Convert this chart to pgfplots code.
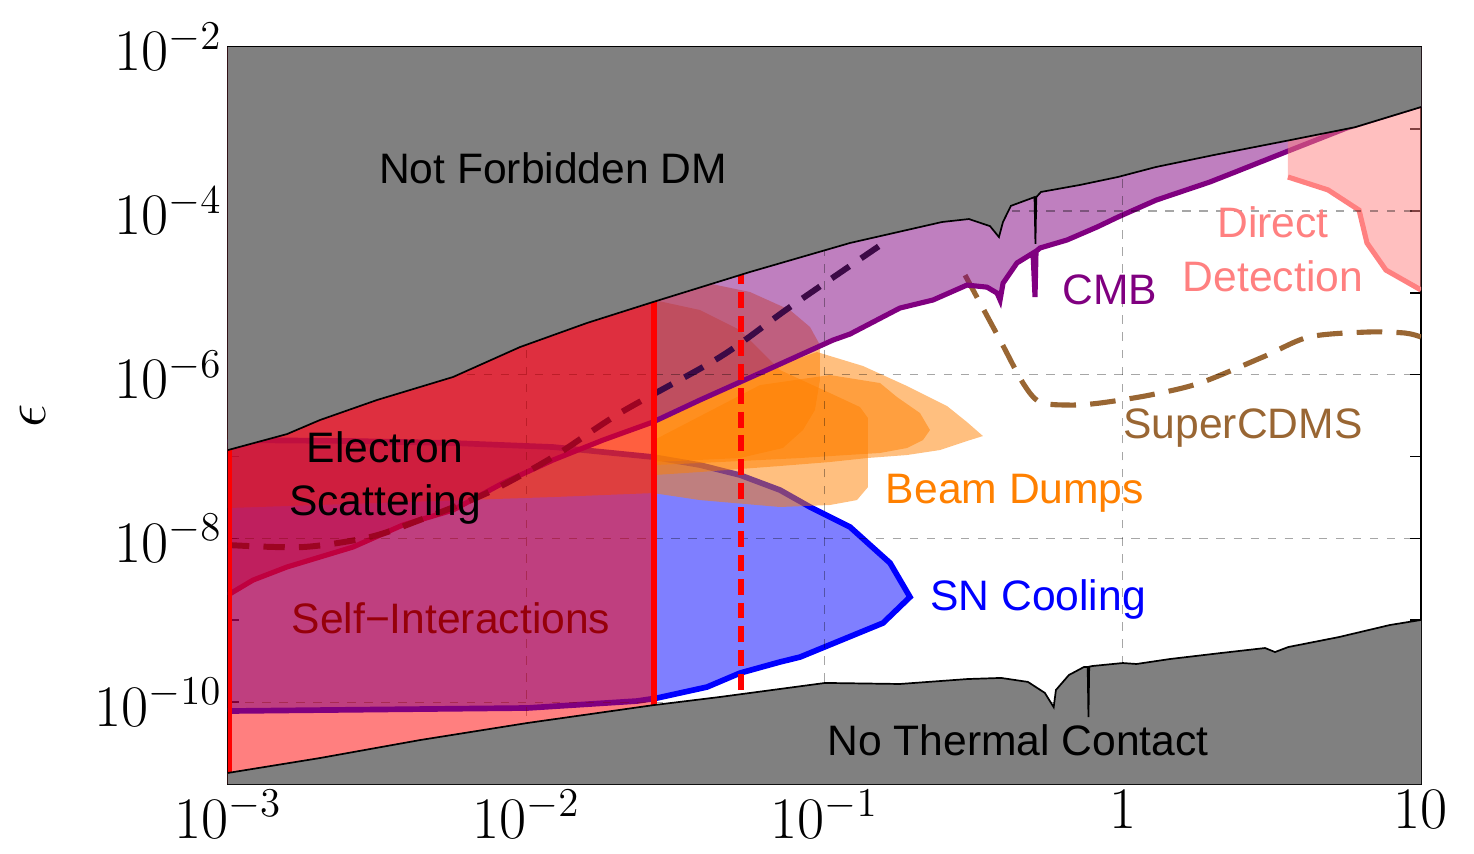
\documentclass[border=0pt]{standalone}
\usepackage{fontspec}
\setmainfont{Liberation Sans}
\usepackage{pgfplots}
\pgfplotsset{compat=1.18}

\definecolor{cmbpurple}{RGB}{128,0,128}
\definecolor{bdorange}{RGB}{255,128,0}
\definecolor{cdmsbrown}{RGB}{153,102,51}
\definecolor{ddpink}{RGB}{255,128,128}
\definecolor{esdark}{RGB}{60,10,70}
\definecolor{sired}{RGB}{150,0,10}
\definecolor{regiongray}{RGB}{128,128,128}

\begin{document}
\begin{tikzpicture}
\begin{axis}[
  xmode=log, ymode=log,
  scale only axis, width=420pt, height=259.5pt,
  xmin=1e-3, xmax=10, ymin=1e-11, ymax=1e-2,
  xtick={1e-3,1e-2,1e-1,1,10},
  xticklabels={$10^{-3}$,$10^{-2}$,$10^{-1}$,$1$,$10$},
  minor xtick={2e-3,3e-3,4e-3,5e-3,6e-3,7e-3,8e-3,9e-3,
               2e-2,3e-2,4e-2,5e-2,6e-2,7e-2,8e-2,9e-2,
               0.2,0.3,0.4,0.5,0.6,0.7,0.8,0.9,
               2,3,4,5,6,7,8,9},
  ytick={1e-10,1e-8,1e-6,1e-4,1e-2},
  yticklabels={$10^{-10}$,$10^{-8}$,$10^{-6}$,$10^{-4}$,$10^{-2}$},
  minor ytick={1e-9,1e-7,1e-5,1e-3},
  tick label style={font=\fontsize{20}{24}\selectfont},
  xticklabel style={inner sep=2pt},
  yticklabel style={inner sep=2pt},
  major tick length=4pt, minor tick length=4pt,
  xtick style={/pgfplots/major tick length=7.8pt},
  tick style={black, line width=0.6pt},
  axis line style={line width=0.8pt},
  ylabel={$\epsilon$},
  ylabel style={font=\fontsize{22}{26}\selectfont, at={(axis description cs:-0.1635,0.50)}, anchor=center},
]

% SuperCDMS projected reach
\addplot[cdmsbrown, line width=1.8pt, dash pattern=on 9pt off 5pt, smooth] coordinates {
 (0.296,1.64e-5) (0.388,2.64e-6) (0.463,7.9e-7) (0.528,4.62e-7) (0.666,4.25e-7)
 (0.839,4.5e-7) (1.234,5.63e-7) (1.815,7.9e-7) (2.95,1.64e-6) (4.21,2.88e-6)
 (6.59,3.31e-6) (8.84,3.22e-6) (10,2.88e-6)};

% supernova cooling
\addplot[fill=blue, fill opacity=0.5, draw=none] coordinates {
 (1e-3,1.590e-7) (2.625e-3,1.546e-7) (5.682e-3,1.461e-7) (1.229e-2,1.306e-7)
 (2.661e-2,9.86e-8) (3.825e-2,7.87e-8) (5.208e-2,5.94e-8) (7.091e-2,3.90e-8)
 (8.943e-2,2.42e-8) (0.1218,1.378e-8) (0.1421,8.31e-9) (0.1659,5.01e-9)
 (0.1935,1.926e-9) (0.1571,9.27e-10) (8.278e-2,3.56e-10) (7.091e-2,3.10e-10)
 (5.208e-2,2.27e-10) (4.037e-2,1.533e-10) (2.745e-2,1.125e-10) (2.351e-2,1.034e-10)
 (1.006e-2,8.50e-11) (1e-3,7.81e-11)} -- cycle;
\addplot[blue, line width=2pt] coordinates {
 (1e-3,1.590e-7) (2.625e-3,1.546e-7) (5.682e-3,1.461e-7) (1.229e-2,1.306e-7)
 (2.661e-2,9.86e-8) (3.825e-2,7.87e-8) (5.208e-2,5.94e-8) (7.091e-2,3.90e-8)
 (8.943e-2,2.42e-8) (0.1218,1.378e-8) (0.1421,8.31e-9) (0.1659,5.01e-9)
 (0.1935,1.926e-9) (0.1571,9.27e-10) (8.278e-2,3.56e-10) (7.091e-2,3.10e-10)
 (5.208e-2,2.27e-10) (4.037e-2,1.533e-10) (2.745e-2,1.125e-10) (2.351e-2,1.034e-10)
 (1.006e-2,8.50e-11) (1e-3,7.81e-11)};

% beam dump exclusions
\addplot[fill=bdorange, fill opacity=0.5, draw=none] coordinates {
 (1e-3,2.106e-7) (4.075e-3,9.888e-7) (9.528e-3,3.05e-6) (2.682e-2,8.145e-6)
 (3.825e-2,6.15e-6) (5.208e-2,3.50e-6) (7.091e-2,1.138e-6) (0.1043,5.960e-7)
 (0.1315,4.022e-7) (0.1399,2.953e-7) (0.1399,4.24e-8) (0.1285,2.94e-8)
 (0.1043,2.56e-8) (7.091e-2,2.42e-8) (3.825e-2,2.94e-8) (2.661e-2,3.58e-8)
 (1.229e-2,3.20e-8) (1e-3,2.35e-8)} -- cycle;
\addplot[fill=bdorange, fill opacity=0.5, draw=none] coordinates {
 (2.682e-2,1.313e-5) (4.037e-2,1.313e-5) (5.627e-2,1.020e-5) (7.660e-2,6.15e-6)
 (8.943e-2,3.814e-6) (9.658e-2,2.298e-6) (9.658e-2,8.59e-7) (9.293e-2,3.70e-7)
 (8.473e-2,2.106e-7) (7.256e-2,1.270e-7) (5.208e-2,9.58e-8) (2.682e-2,8.57e-8)} -- cycle;
\addplot[fill=bdorange, fill opacity=0.5, draw=none] coordinates {
 (2.682e-2,2.791e-7) (3.825e-2,5.180e-7) (6.077e-2,1.075e-6) (9.437e-2,1.887e-6)
 (0.1346,1.274e-6) (0.1891,7.257e-7) (0.2575,4.136e-7) (0.3003,2.638e-7)
 (0.3399,1.779e-7) (0.3003,1.546e-7) (0.2439,1.200e-7) (0.1891,1.043e-7)
 (0.1388,9.58e-8) (0.1043,8.57e-8) (7.091e-2,7.66e-8) (3.825e-2,6.47e-8)
 (2.682e-2,5.94e-8)} -- cycle;
\addplot[fill=bdorange, fill opacity=0.5, draw=none] coordinates {
 (2.682e-2,1.590e-7) (6.077e-2,7.46e-7) (0.1043,9.888e-7) (0.1535,7.898e-7)
 (0.1750,5.327e-7) (0.2090,3.397e-7) (0.2258,2.106e-7) (0.2139,1.590e-7)
 (0.1891,1.270e-7) (0.1535,1.104e-7) (0.1189,1.043e-7) (8.278e-2,9.58e-8)
 (3.825e-2,8.33e-8) (2.682e-2,7.87e-8)} -- cycle;

% CMB exclusion
\addplot[fill=cmbpurple, fill opacity=0.5, draw=none] coordinates {
 (1e-3,2.04e-9) (1.213e-3,3.10e-9) (1.577e-3,4.48e-9) (2.625e-3,7.85e-9)
 (3.86e-3,1.46e-8) (5.682e-3,2.22e-8) (8.36e-3,4.75e-8) (1.229e-2,9.06e-8)
 (1.81e-2,1.59e-7) (2.661e-2,2.64e-7) (3.825e-2,4.9e-7) (6.415e-2,1.14e-6)
 (0.1068,2.64e-6) (0.1218,3.13e-6) (0.179,6.50e-6) (0.2311,8.15e-6)
 (0.3003,1.24e-5) (0.3507,1.17e-5) (0.379,9.9e-6) (0.388,8.15e-6)
 (0.397,1.31e-5) (0.4419,2.31e-5) (0.5002,3.05e-5) (0.508,8.86e-6)
 (0.512,3.2e-5) (0.5281,3.52e-5) (0.650,4.40e-5) (0.820,6.34e-5)
 (0.964,8.4e-5) (1.293,1.35e-4) (1.96,2.25e-4) (2.34,2.9e-4) (3.52,5.23e-4)
 (5.65,1.03e-3) (10,1.95e-3) (10,1e-2) (1e-3,1e-2)} -- cycle;
\addplot[cmbpurple, line width=1.8pt] coordinates {
 (1e-3,2.04e-9) (1.213e-3,3.10e-9) (1.577e-3,4.48e-9) (2.625e-3,7.85e-9)
 (3.86e-3,1.46e-8) (5.682e-3,2.22e-8) (8.36e-3,4.75e-8) (1.229e-2,9.06e-8)
 (1.81e-2,1.59e-7) (2.661e-2,2.64e-7) (3.825e-2,4.9e-7) (6.415e-2,1.14e-6)
 (0.1068,2.64e-6) (0.1218,3.13e-6) (0.179,6.50e-6) (0.2311,8.15e-6)
 (0.3003,1.24e-5) (0.3507,1.17e-5) (0.379,9.9e-6) (0.388,8.15e-6)
 (0.397,1.31e-5) (0.4419,2.31e-5) (0.5002,3.05e-5) (0.508,8.86e-6)
 (0.512,3.2e-5) (0.5281,3.52e-5) (0.650,4.40e-5) (0.820,6.34e-5)
 (0.964,8.4e-5) (1.293,1.35e-4) (1.96,2.25e-4) (2.34,2.9e-4) (3.52,5.23e-4)
 (5.65,1.03e-3) (10,1.95e-3)};

% direct detection
\addplot[fill=ddpink, fill opacity=0.5, draw=none] coordinates {
 (3.58,1e-2) (3.58,2.59e-4) (4.88,1.80e-4) (6.2,1.02e-4) (6.59,4.05e-5)
 (7.63,1.89e-5) (10,1.08e-5) (10,1e-2)} -- cycle;
\addplot[ddpink, line width=1.8pt] coordinates {
 (3.58,2.59e-4) (4.88,1.80e-4) (6.2,1.02e-4) (6.59,4.05e-5) (7.63,1.89e-5) (10,1.08e-5)};

% electron scattering projection
\addplot[esdark, line width=2.1pt, dash pattern=on 7.5pt off 5pt, smooth] coordinates {
 (1e-3,8.31e-9) (1.784e-3,7.85e-9) (2.993e-3,1.04e-8) (4.403e-3,1.68e-8)
 (7.385e-3,3.58e-8) (1.229e-2,9.86e-8) (2.062e-2,3.40e-7) (4.463e-2,1.64e-6)
 (7.66e-2,6.68e-6) (0.1633,4.40e-5)};

% dashed grid
\addplot[black, opacity=0.35, line width=0.5pt, dash pattern=on 3pt off 3pt] coordinates {(1e-3,1e-4) (10,1e-4)};
\addplot[black, opacity=0.35, line width=0.5pt, dash pattern=on 3pt off 3pt] coordinates {(1e-3,1e-6) (10,1e-6)};
\addplot[black, opacity=0.35, line width=0.5pt, dash pattern=on 3pt off 3pt] coordinates {(1e-3,1e-8) (10,1e-8)};
\addplot[black, opacity=0.35, line width=0.5pt, dash pattern=on 3pt off 3pt] coordinates {(1e-3,1e-10) (10,1e-10)};
\addplot[black, opacity=0.35, line width=0.5pt, dash pattern=on 3pt off 3pt] coordinates {(1e-2,1e-11) (1e-2,1e-2)};
\addplot[black, opacity=0.35, line width=0.5pt, dash pattern=on 3pt off 3pt] coordinates {(1e-1,1e-11) (1e-1,1e-2)};
\addplot[black, opacity=0.35, line width=0.5pt, dash pattern=on 3pt off 3pt] coordinates {(1,1e-11) (1,1e-2)};

% self-interaction bound
\addplot[fill=red, fill opacity=0.5, draw=none] coordinates {
 (1e-3,1e-11) (2.682e-2,1e-11) (2.682e-2,1e-2) (1e-3,1e-2)} -- cycle;
\addplot[red, line width=1.8pt] coordinates {(2.682e-2,1e-11) (2.682e-2,1e-2)};
\addplot[red, line width=2.6pt] coordinates {(1e-3,1e-11) (1e-3,1e-2)};
\addplot[red, line width=1.8pt, dash pattern=on 5.6pt off 2.8pt] coordinates {(5.248e-2,1.41e-10) (5.248e-2,1e-2)};

% not forbidden DM
\addplot[fill=regiongray, draw=none] coordinates {
 (1e-3,1.2e-7) (1.577e-3,1.88e-7) (2.034e-3,2.79e-7) (3.16e-3,4.90e-7)
 (5.682e-3,9.35e-7) (9.528e-3,2.17e-6) (1.598e-2,4.27e-6) (2.661e-2,7.70e-6)
 (5.62e-2,1.79e-5) (0.1218,4.05e-5) (0.2477,7.3e-5) (0.305,7.94e-5)
 (0.359,6.5e-5) (0.3846,4.78e-5) (0.3967,7.3e-5) (0.4217,1.15e-4)
 (0.506,1.47e-4) (0.5097,3.94e-5) (0.513,1.47e-4) (0.532,1.70e-4)
 (0.719,2.07e-4) (0.964,2.59e-4) (1.293,3.43e-4) (2.02,4.8e-4) (3.64,7.3e-4)
 (6.01,1.05e-3) (10,1.85e-3) (10,1e-2) (1e-3,1e-2)} -- cycle;
\addplot[black, line width=0.6pt] coordinates {
 (1e-3,1.2e-7) (1.577e-3,1.88e-7) (2.034e-3,2.79e-7) (3.16e-3,4.90e-7)
 (5.682e-3,9.35e-7) (9.528e-3,2.17e-6) (1.598e-2,4.27e-6) (2.661e-2,7.70e-6)
 (5.62e-2,1.79e-5) (0.1218,4.05e-5) (0.2477,7.3e-5) (0.305,7.94e-5)
 (0.359,6.5e-5) (0.3846,4.78e-5) (0.3967,7.3e-5) (0.4217,1.15e-4)
 (0.506,1.47e-4) (0.5097,3.94e-5) (0.513,1.47e-4) (0.532,1.70e-4)
 (0.719,2.07e-4) (0.964,2.59e-4) (1.293,3.43e-4) (2.02,4.8e-4) (3.64,7.3e-4)
 (6.01,1.05e-3) (10,1.85e-3)};

% no thermal contact
\addplot[fill=regiongray, draw=none] coordinates {
 (1e-3,1.37e-11) (2.03e-3,2.08e-11) (4.40e-3,3.45e-11) (1.006e-2,5.57e-11)
 (2.66e-2,9.2e-11) (4.47e-2,1.16e-10) (0.1005,1.72e-10) (0.179,1.67e-10)
 (0.302,1.92e-10) (0.391,1.98e-10) (0.481,1.77e-10) (0.548,1.30e-10)
 (0.5868,8.7e-11) (0.597,1.41e-10) (0.660,2.15e-10) (0.741,2.69e-10)
 (0.763,2.7e-10) (0.7675,6.6e-11) (0.772,2.72e-10) (0.792,2.77e-10)
 (1.0,3.01e-10) (1.112,2.93e-10) (1.44,3.37e-10) (2.135,3.99e-10) (3.0,4.59e-10)
 (3.24,4.1e-10) (3.59,4.72e-10) (5.31,6.25e-10) (7.87,8.77e-10) (10,1.01e-9)
 (10,1e-11) (1e-3,1e-11)} -- cycle;
\addplot[black, line width=0.6pt] coordinates {
 (1e-3,1.37e-11) (2.03e-3,2.08e-11) (4.40e-3,3.45e-11) (1.006e-2,5.57e-11)
 (2.66e-2,9.2e-11) (4.47e-2,1.16e-10) (0.1005,1.72e-10) (0.179,1.67e-10)
 (0.302,1.92e-10) (0.391,1.98e-10) (0.481,1.77e-10) (0.548,1.30e-10)
 (0.5868,8.7e-11) (0.597,1.41e-10) (0.660,2.15e-10) (0.741,2.69e-10)
 (0.763,2.7e-10) (0.7675,6.6e-11) (0.772,2.72e-10) (0.792,2.77e-10)
 (1.0,3.01e-10) (1.112,2.93e-10) (1.44,3.37e-10) (2.135,3.99e-10) (3.0,4.59e-10)
 (3.24,4.1e-10) (3.59,4.72e-10) (5.31,6.25e-10) (7.87,8.77e-10) (10,1.01e-9)};

% region labels
\node[font=\fontsize{15}{18}\selectfont] at (axis cs:0.0123,3.33e-4) {Not Forbidden DM};
\node[font=\fontsize{15}{18.7}\selectfont, align=center] at (axis cs:3.36e-3,5.47e-8) {Electron\\Scattering};
\node[font=\fontsize{15}{18}\selectfont, text=sired] at (axis cs:5.59e-3,1.07e-9) {Self−Interactions};
\node[font=\fontsize{15}{18}\selectfont, text=cmbpurple] at (axis cs:0.906,1.08e-5) {CMB};
\node[font=\fontsize{15}{19}\selectfont, text=ddpink, align=center] at (axis cs:3.19,3.42e-5) {Direct\\Detection};
\node[font=\fontsize{15}{18}\selectfont, text=cdmsbrown] at (axis cs:2.53,2.23e-7) {SuperCDMS};
\node[font=\fontsize{15}{18}\selectfont, text=bdorange] at (axis cs:0.4353,3.58e-8) {Beam Dumps};
\node[font=\fontsize{15}{18}\selectfont, text=blue] at (axis cs:0.520,1.82e-9) {SN Cooling};
\node[font=\fontsize{15}{18}\selectfont] at (axis cs:0.4455,3.46e-11) {No Thermal Contact};
\end{axis}
\path ([xshift=-80.27pt,yshift=-24.29pt]current axis.south west) rectangle ([xshift=18.66pt,yshift=16.55pt]current axis.north east);
\end{tikzpicture}
\end{document}
